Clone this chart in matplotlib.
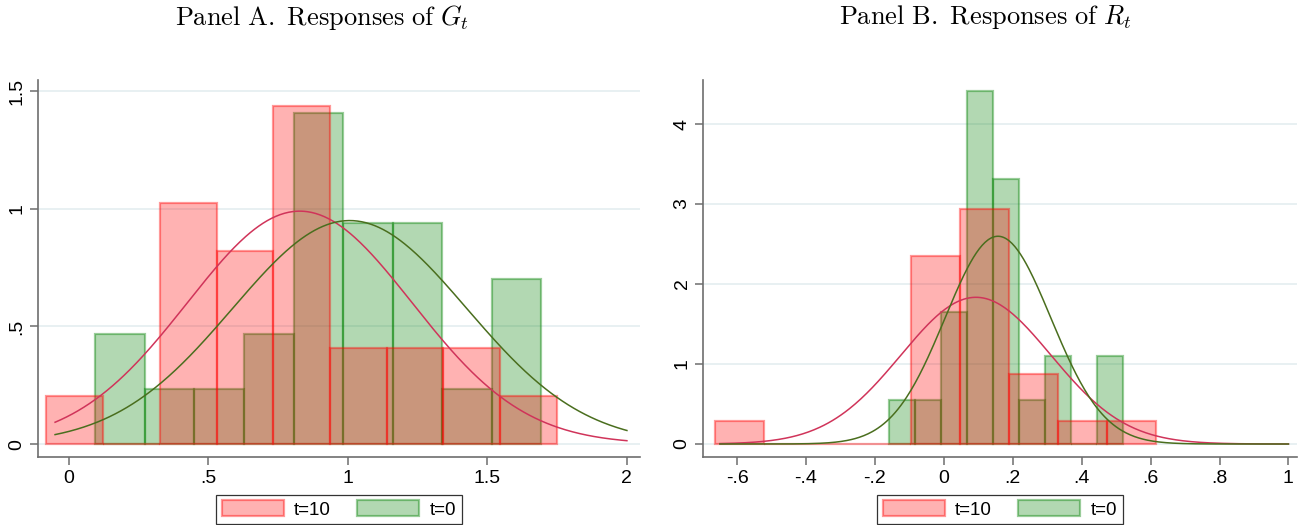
import matplotlib
matplotlib.use("Agg")
import matplotlib.pyplot as plt
import numpy as np
from matplotlib.patches import Patch

plt.rcParams['font.family'] = ['Liberation Sans', 'DejaVu Sans']
plt.rcParams['mathtext.fontset'] = 'cm'

# Panel A: responses of G_t (histogram bins, counts out of 24)
g10_start, g10_width = -0.081, 0.2033
g10_counts = [1, 0, 5, 4, 7, 2, 2, 2, 1]
g0_start, g0_width = 0.094, 0.1777
g0_counts = [2, 1, 1, 2, 6, 4, 4, 1, 3]
g10_mean, g10_sd = 0.827, 0.403
g0_mean, g0_sd = 1.006, 0.420

# Panel B: responses of R_t
r10_start, r10_width = -0.664, 0.1421
r10_counts = [1, 0, 0, 0, 8, 10, 3, 1, 1]
r0_start, r0_width = -0.159, 0.0755
r0_counts = [1, 1, 3, 8, 6, 1, 2, 0, 2]
r10_mean, r10_sd = 0.093, 0.2175
r0_mean, r0_sd = 0.157, 0.1536

red_face = (1, 0, 0, 0.30)
red_edge = (1, 0, 0, 0.40)
green_face = (0, 0.5, 0, 0.30)
green_edge = (0, 0.5, 0, 0.40)
red_line = '#d0345a'
green_line = '#4a6e1e'
axis_gray = '#6e6e6e'


def density_bars(ax, start, width, counts, face, edge):
    counts = np.asarray(counts, dtype=float)
    n = counts.sum()
    lefts = start + width*np.arange(len(counts))
    heights = counts/(n*width)
    ax.bar(lefts, heights, width=width, align='edge', color=face,
           edgecolor=edge, linewidth=1.6, zorder=2)


def normal_pdf(x, mu, sd):
    return np.exp(-0.5*((x-mu)/sd)**2)/(sd*np.sqrt(2*np.pi))


def style_axis(ax, xticks, xlabels, yticks, ylabels, xlim, ylim):
    ax.set_xlim(xlim)
    ax.set_ylim(ylim)
    ax.set_xticks(xticks)
    ax.set_xticklabels(xlabels)
    ax.set_yticks(yticks)
    ax.set_yticklabels(ylabels, rotation=90, va='center')
    for s in ['top', 'right']:
        ax.spines[s].set_visible(False)
    for s in ['left', 'bottom']:
        ax.spines[s].set_color(axis_gray)
        ax.spines[s].set_linewidth(1.2)
    ax.tick_params(direction='out', length=6, width=1.1, color=axis_gray,
                   labelsize=14, pad=3)
    ax.yaxis.grid(True, color='#e8f0f2', linewidth=1.4, zorder=0)
    ax.set_axisbelow(True)
    handles = [Patch(facecolor=red_face, edgecolor=red_edge, linewidth=1.6),
               Patch(facecolor=green_face, edgecolor=green_edge, linewidth=1.6)]
    leg = ax.legend(handles, ['t=10', 't=0'], loc='upper center',
                    bbox_to_anchor=(0.5, -0.1), ncol=2, fontsize=13.5,
                    frameon=True, fancybox=False, handlelength=3.3,
                    handleheight=0.9, columnspacing=1.4, handletextpad=0.55,
                    borderpad=0.3, borderaxespad=0)
    leg.get_frame().set_edgecolor('black')
    leg.get_frame().set_linewidth(0.9)


fig = plt.figure(figsize=(12.99, 5.25), dpi=100)
axA = fig.add_axes([0.0293, 0.1295, 0.4634, 0.718])
axB = fig.add_axes([0.5412, 0.1295, 0.4573, 0.718])

# Panel A
density_bars(axA, g0_start, g0_width, g0_counts, green_face, green_edge)
density_bars(axA, g10_start, g10_width, g10_counts, red_face, red_edge)
xa = np.linspace(-0.05, 2.0, 400)
axA.plot(xa, normal_pdf(xa, g10_mean, g10_sd), color=red_line, lw=1.1, zorder=3)
axA.plot(xa, normal_pdf(xa, g0_mean, g0_sd), color=green_line, lw=1.1, zorder=3)
style_axis(axA, [0, 0.5, 1, 1.5, 2], ['0', '.5', '1', '1.5', '2'],
           [0, 0.5, 1, 1.5], ['0', '.5', '1', '1.5'],
           (-0.111, 2.047), (-0.055, 1.547))

# Panel B
density_bars(axB, r0_start, r0_width, r0_counts, green_face, green_edge)
density_bars(axB, r10_start, r10_width, r10_counts, red_face, red_edge)
xb = np.linspace(-0.65, 1.0, 400)
axB.plot(xb, normal_pdf(xb, r10_mean, r10_sd), color=red_line, lw=1.1, zorder=3)
axB.plot(xb, normal_pdf(xb, r0_mean, r0_sd), color=green_line, lw=1.1, zorder=3)
style_axis(axB, [-0.6, -0.4, -0.2, 0, 0.2, 0.4, 0.6, 0.8, 1],
           ['-.6', '-.4', '-.2', '0', '.2', '.4', '.6', '.8', '1'],
           [0, 1, 2, 3, 4], ['0', '1', '2', '3', '4'],
           (-0.699, 1.025), (-0.1625, 4.55))

fig.text(322/1299, 1-17/525, r'$\mathrm{Panel\ A.\ Responses\ of\ }G_t$',
         ha='center', va='center', fontsize=19)
fig.text(985/1299, 1-17/525, r'$\mathrm{Panel\ B.\ Responses\ of\ }R_t$',
         ha='center', va='center', fontsize=19)

fig.savefig('out.png', dpi=100)
